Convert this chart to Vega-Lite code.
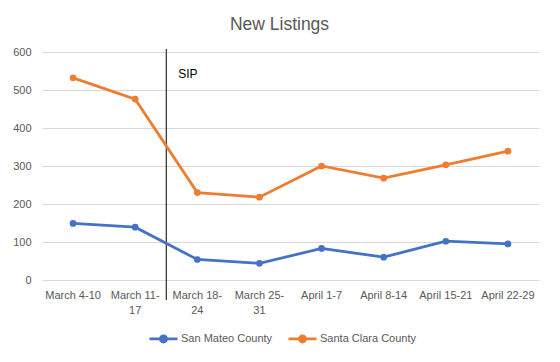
{
  "$schema": "https://vega.github.io/schema/vega-lite/v6.json",
  "autosize": "none",
  "width": 497,
  "height": 228,
  "padding": {"left": 42, "top": 52, "right": 21, "bottom": 82},
  "background": "white",
  "config": {
    "font": "Liberation Sans",
    "view": {"stroke": null},
    "axis": {"labelColor": "#595959", "labelFontSize": 11, "titleColor": "#595959", "gridColor": "#D9D9D9", "domain": false, "ticks": false}
  },
  "title": {"text": "New Listings", "fontSize": 17.5, "fontWeight": "normal", "color": "#595959", "offset": 13, "dx": -11, "anchor": "middle"},
  "data": {"values": [
    {"week": "March 4-10", "county": "San Mateo County", "listings": 149},
    {"week": "March 11-17", "county": "San Mateo County", "listings": 139},
    {"week": "March 18-24", "county": "San Mateo County", "listings": 54},
    {"week": "March 25-31", "county": "San Mateo County", "listings": 44},
    {"week": "April 1-7", "county": "San Mateo County", "listings": 83},
    {"week": "April 8-14", "county": "San Mateo County", "listings": 60},
    {"week": "April 15-21", "county": "San Mateo County", "listings": 102},
    {"week": "April 22-29", "county": "San Mateo County", "listings": 95},
    {"week": "March 4-10", "county": "Santa Clara County", "listings": 532},
    {"week": "March 11-17", "county": "Santa Clara County", "listings": 476},
    {"week": "March 18-24", "county": "Santa Clara County", "listings": 230},
    {"week": "March 25-31", "county": "Santa Clara County", "listings": 218},
    {"week": "April 1-7", "county": "Santa Clara County", "listings": 300},
    {"week": "April 8-14", "county": "Santa Clara County", "listings": 268},
    {"week": "April 15-21", "county": "Santa Clara County", "listings": 303},
    {"week": "April 22-29", "county": "Santa Clara County", "listings": 339}
  ]},
  "layer": [
    {
      "data": {"values": [{}]},
      "mark": {"type": "rule", "color": "black", "strokeWidth": 1},
      "encoding": {
        "x": {"datum": "March 18-24", "type": "nominal", "bandPosition": 0,
          "scale": {"type": "band", "paddingInner": 0, "paddingOuter": 0,
            "domain": ["March 4-10", "March 11-17", "March 18-24", "March 25-31", "April 1-7", "April 8-14", "April 15-21", "April 22-29"]},
          "axis": {"title": null, "grid": false, "labelAngle": 0, "labelPadding": 9, "labelLineHeight": 15, "labelBaseline": "top",
            "labelExpr": "test(/^March \\d\\d-/, datum.label) ? [substring(datum.label, 0, indexof(datum.label, '-') + 1), substring(datum.label, indexof(datum.label, '-') + 1)] : datum.label"}},
        "y": {"datum": 608, "type": "quantitative",
          "scale": {"domain": [0, 600], "nice": false},
          "axis": {"title": null, "values": [0, 100, 200, 300, 400, 500, 600], "tickCount": 7, "labelPadding": 11, "grid": true, "labelOverlap": false}},
        "y2": {"datum": -53}
      }
    },
    {
      "data": {"values": [{}]},
      "mark": {"type": "text", "text": "SIP", "align": "left", "baseline": "middle", "dx": 12, "fontSize": 12, "color": "black"},
      "encoding": {
        "x": {"datum": "March 18-24", "type": "nominal", "bandPosition": 0,
          "axis": {"title": null, "grid": false, "labelAngle": 0, "labelPadding": 9, "labelLineHeight": 15, "labelBaseline": "top",
            "labelExpr": "test(/^March \\d\\d-/, datum.label) ? [substring(datum.label, 0, indexof(datum.label, '-') + 1), substring(datum.label, indexof(datum.label, '-') + 1)] : datum.label"}},
        "y": {"datum": 542, "type": "quantitative",
          "axis": {"title": null, "values": [0, 100, 200, 300, 400, 500, 600], "tickCount": 7, "labelPadding": 11, "grid": true, "labelOverlap": false}}
      }
    },
    {
      "mark": {"type": "line", "strokeWidth": 2.75, "point": {"filled": true, "size": 45}},
      "encoding": {
        "x": {
          "field": "week", "type": "nominal", "sort": null, "bandPosition": 0.5,
          "axis": {"title": null, "grid": false, "labelAngle": 0, "labelPadding": 9, "labelLineHeight": 15, "labelBaseline": "top",
            "labelExpr": "test(/^March \\d\\d-/, datum.label) ? [substring(datum.label, 0, indexof(datum.label, '-') + 1), substring(datum.label, indexof(datum.label, '-') + 1)] : datum.label"}
        },
        "y": {
          "field": "listings", "type": "quantitative",
          "axis": {"title": null, "values": [0, 100, 200, 300, 400, 500, 600], "tickCount": 7, "labelPadding": 11, "grid": true, "labelOverlap": false}
        },
        "color": {
          "field": "county", "type": "nominal",
          "scale": {"domain": ["San Mateo County", "Santa Clara County"], "range": ["#4472C4", "#ED7D31"]},
          "legend": {
            "title": null, "orient": "none", "direction": "horizontal", "legendX": 106, "legendY": 271,
            "labelColor": "#595959", "labelFontSize": 11, "columnPadding": 10, "labelOffset": 2,
            "symbolType": "M-1,0H1M-0.22,0A0.22,0.22 0 1,0 0.22,0A0.22,0.22 0 1,0 -0.22,0",
            "symbolSize": 784, "symbolStrokeWidth": 2.75
          }
        }
      }
    }
  ]
}
